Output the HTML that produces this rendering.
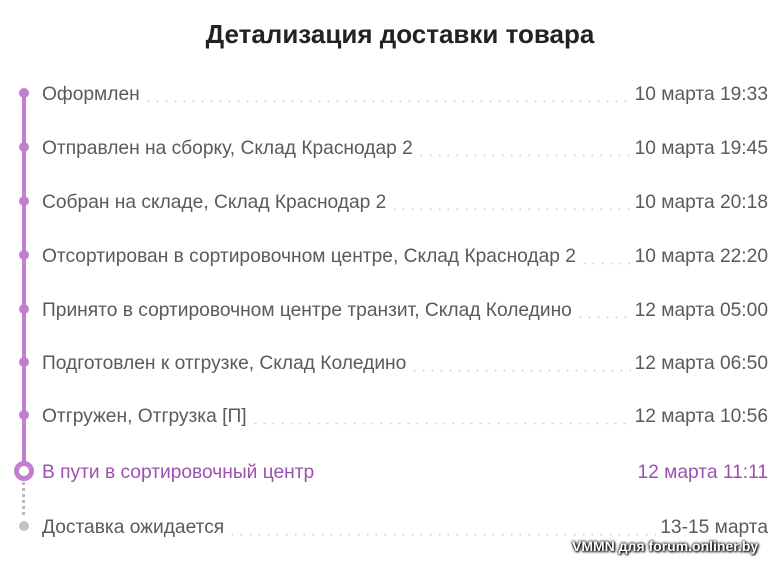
<!DOCTYPE html>
<html><head><meta charset="utf-8"><style>
body{margin:0;width:784px;height:570px;background:#fff;font-family:"Liberation Sans",sans-serif;position:relative;overflow:hidden}
h1{position:absolute;top:19px;left:0;width:800px;text-align:center;margin:0;font-size:26px;font-weight:bold;color:#222}
.row{position:absolute;left:42px;width:726px;height:24px;display:flex;align-items:center;font-size:19.2px;color:#5a5a5a}
.row .l{white-space:nowrap}
.row .d{flex:1;height:24px;margin:0 4px;background:radial-gradient(circle,#d4d4d4 0.9px,transparent 1.2px) 0 17px/9px 3px repeat-x}
.row .r{white-space:nowrap}
.a{color:#9c51b0}
.dot{position:absolute;left:19px;width:10px;height:10px;border-radius:50%;background:#c17fce}
.line{position:absolute;left:22px;width:4px;background:#c17fce}
</style></head><body>
<h1>Детализация доставки товара</h1>
<div class="line" style="top:93px;height:375px"></div>
<div style="position:absolute;left:22px;top:482px;height:36px;width:3px;background:repeating-linear-gradient(#bbb 0 3px,transparent 3px 6px)"></div>
<div class="dot" style="top:88px"></div>
<div class="dot" style="top:142px"></div>
<div class="dot" style="top:196px"></div>
<div class="dot" style="top:250px"></div>
<div class="dot" style="top:304px"></div>
<div class="dot" style="top:357px"></div>
<div class="dot" style="top:410px"></div>
<div style="position:absolute;left:14px;top:461px;width:10px;height:10px;border:5px solid #c17fce;border-radius:50%;background:#fff"></div>
<div class="dot" style="top:521px;background:#c4c4c4"></div>
<div class="row" style="top:83px"><span class="l">Оформлен</span><span class="d"></span><span class="r">10 марта 19:33</span></div>
<div class="row" style="top:137px"><span class="l">Отправлен на сборку, Склад Краснодар 2</span><span class="d"></span><span class="r">10 марта 19:45</span></div>
<div class="row" style="top:191px"><span class="l">Собран на складе, Склад Краснодар 2</span><span class="d"></span><span class="r">10 марта 20:18</span></div>
<div class="row" style="top:245px"><span class="l">Отсортирован в сортировочном центре, Склад Краснодар 2</span><span class="d"></span><span class="r">10 марта 22:20</span></div>
<div class="row" style="top:299px"><span class="l">Принято в сортировочном центре транзит, Склад Коледино</span><span class="d"></span><span class="r">12 марта 05:00</span></div>
<div class="row" style="top:352px"><span class="l">Подготовлен к отгрузке, Склад Коледино</span><span class="d"></span><span class="r">12 марта 06:50</span></div>
<div class="row" style="top:405px"><span class="l">Отгружен, Отгрузка [П]</span><span class="d"></span><span class="r">12 марта 10:56</span></div>
<div class="row a" style="top:461px"><span class="l">В пути в сортировочный центр</span><span class="d" style="background:none"></span><span class="r">12 марта 11:11</span></div>
<div class="row" style="top:516px"><span class="l">Доставка ожидается</span><span class="d"></span><span class="r">13-15 марта</span></div>
<div style="position:absolute;left:572px;top:538px;font-size:14px;font-weight:bold;color:#fff;text-shadow:0 0 2px #000,0 0 3px #000,1px 1px 2px #000">VMMN для forum.onliner.by</div>
</body></html>
